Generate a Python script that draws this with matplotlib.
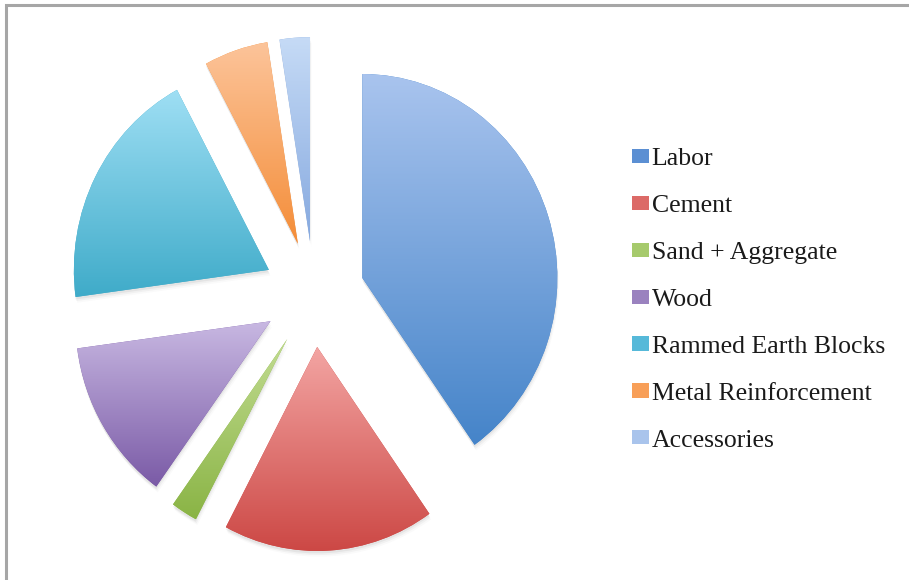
import numpy as np
import matplotlib.pyplot as plt
from matplotlib.colors import LinearSegmentedColormap
from matplotlib.patches import Patch, Rectangle, Wedge

# --- Dados ---
categories = ['Labor', 'Cement', 'Sand + Aggregate', 'Wood',
              'Rammed Earth Blocks', 'Metal Reinforcement', 'Accessories']
shares = [40.2, 17.5, 2.2, 12.9, 19.3, 5.3, 2.5]

# cores: topo e base do gradiente de cada fatia, e cor do marcador da legenda
top_colors = ['#a9c4ee', '#f3a5a3', '#c2dc92', '#c8b8e2', '#9fdff4', '#fcc49a', '#c6dbf6']
base_colors = ['#4584c9', '#cc4744', '#8ab445', '#7a5aa6', '#3fabc9', '#f48d38', '#86a9df']
legend_colors = ['#5b8fd3', '#dc6a67', '#a6ca6c', '#9a82bf', '#56b9d9', '#f89f58', '#a9c4ec']

# --- Layout (px) ---
W, H = 909, 580
CX, CY = 314, 294   # centro da pizza, medido a partir do topo
SX, SY = 195, 204   # px por unidade de raio (a pizza é levemente achatada)

fig = plt.figure(figsize=(W / 100, H / 100), dpi=100)
ax = fig.add_axes([0, 0, 1, 1])
xlim = (-CX / SX, (W - CX) / SX)
ylim = (-(H - CY) / SY, CY / SY)

wedges, _ = ax.pie(shares, startangle=90, counterclock=False,
                   explode=[0.26] * len(shares),
                   wedgeprops=dict(linewidth=0))

grad = np.linspace(0, 1, 256).reshape(-1, 1)
for w, c_top, c_base in zip(wedges, top_colors, base_colors):
    w.set_facecolor(c_base)
    # sombra suave por baixo da fatia
    for k, a in enumerate([0.10, 0.07, 0.04]):
        sh = Wedge((w.center[0] + 0.004 * k, w.center[1] - 0.012 - 0.008 * k),
                   w.r, w.theta1, w.theta2, facecolor='#808080',
                   edgecolor='none', alpha=a, zorder=0)
        ax.add_patch(sh)
    w.set_zorder(2)
    # gradiente vertical recortado no formato da fatia
    verts = w.get_patch_transform().transform(w.get_path().vertices)
    x0, y0 = verts.min(axis=0)
    x1, y1 = verts.max(axis=0)
    cmap = LinearSegmentedColormap.from_list('g', [c_top, c_base])
    im = ax.imshow(grad, extent=(x0, x1, y0, y1), origin='upper',
                   cmap=cmap, aspect='auto', zorder=3)
    im.set_clip_path(w)

ax.set_xlim(*xlim)
ax.set_ylim(*ylim)
ax.set_aspect('auto')
ax.axis('off')

handles = [Patch(facecolor=c, edgecolor='none') for c in legend_colors]
leg = ax.legend(handles, categories, loc='upper left',
                bbox_to_anchor=(632 / W, 1 - 148 / H),
                frameon=False, borderaxespad=0, borderpad=0,
                prop=dict(family='Liberation Serif', size=18.5),
                labelspacing=0.97, handlelength=0.66, handleheight=0.47,
                handletextpad=0.1)
for t in leg.get_texts():
    t.set_color('#1a1a1a')

# moldura cinza (topo e esquerda)
fig.patches.append(Rectangle((6 / W, -0.1), 1.2, 1.1 - 5 / H,
                             transform=fig.transFigure, fill=False,
                             edgecolor='#a6a6a6', linewidth=2.2))

fig.savefig('out.png', dpi=100)
